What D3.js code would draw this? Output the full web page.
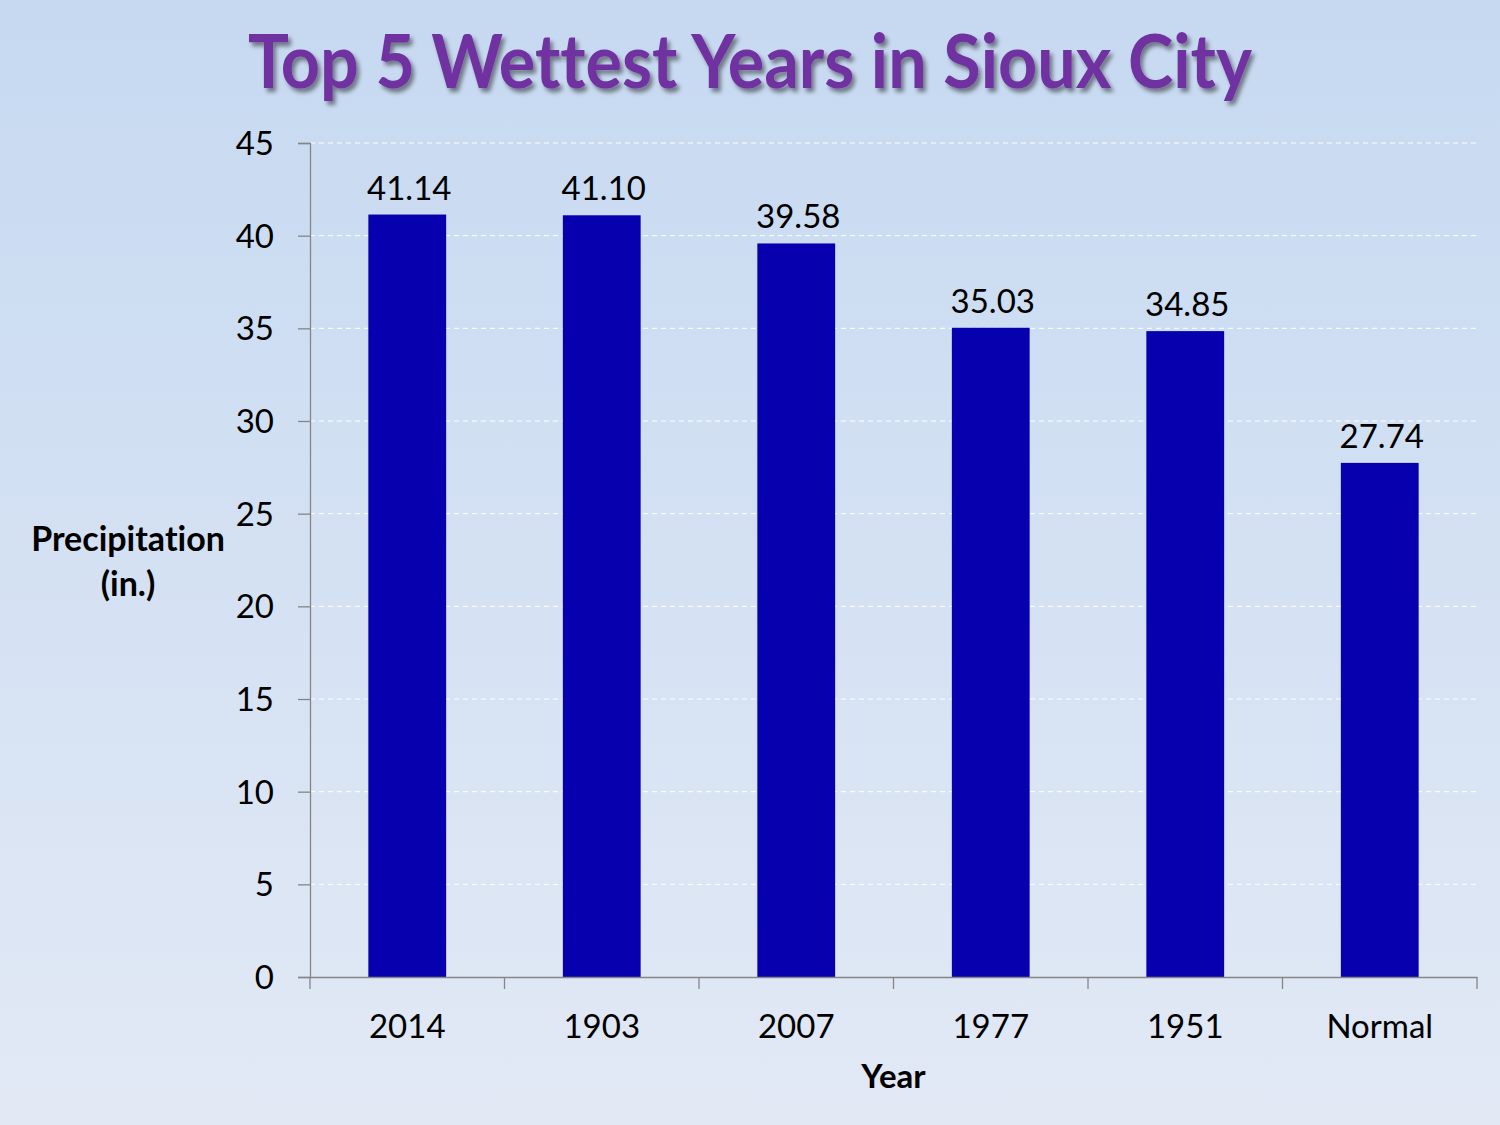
<!DOCTYPE html>
<html>
<head>
<meta charset="utf-8">
<script src="https://cdn.jsdelivr.net/npm/d3@7"></script>
<style>
  html, body { margin: 0; padding: 0; }
  body { width: 1500px; height: 1125px; overflow: hidden; }
  svg { display: block; }
  text { font-variant-ligatures: none; }
</style>
</head>
<body>
<svg id="chart" width="1500" height="1125"></svg>
<script>
const categories = ["2014", "1903", "2007", "1977", "1951", "Normal"];
const values = [41.14, 41.10, 39.58, 35.03, 34.85, 27.74];
const labels = ["41.14", "41.10", "39.58", "35.03", "34.85", "27.74"];
const yTicks = [0, 5, 10, 15, 20, 25, 30, 35, 40, 45];
const titleText = "Top 5 Wettest Years in Sioux City";
const yTitle = ["Precipitation", "(in.)"];
const xTitle = "Year";

(function () {
const svg = d3.select("#chart");
const W = 1500, H = 1125;
const fontFamily = "Lato, 'Open Sans', 'Noto Sans', sans-serif";

const defs = svg.append("defs");
const grad = defs.append("linearGradient").attr("id", "bg").attr("x1", 0).attr("y1", 0).attr("x2", 0).attr("y2", 1);
grad.append("stop").attr("offset", "0%").attr("stop-color", "#c6d9f1");
grad.append("stop").attr("offset", "100%").attr("stop-color", "#e2e9f5");
svg.append("rect").attr("width", W).attr("height", H).attr("fill", "url(#bg)");

const shadow = defs.append("filter").attr("id", "shadow").attr("x", "-5%").attr("y", "-20%").attr("width", "110%").attr("height", "150%");
shadow.append("feDropShadow").attr("dx", 3).attr("dy", 4).attr("stdDeviation", 2).attr("flood-color", "#000").attr("flood-opacity", 0.45);

const pLeft = 310, pRight = 1477, pTop = 143, pBottom = 977;

const x = d3.scaleBand().domain(categories).range([pLeft, pRight]).padding(0);
const y = d3.scaleLinear().domain([0, 45]).range([pBottom, pTop]);

svg.append("g").selectAll("line").data(yTicks.filter(d => d > 0)).join("line")
  .attr("x1", pLeft).attr("x2", pRight)
  .attr("y1", d => y(d)).attr("y2", d => y(d))
  .attr("stroke", "#ffffff").attr("stroke-width", 1)
  .attr("stroke-dasharray", "5,4");

const barW = x.bandwidth() * 0.4;
svg.append("g").selectAll("rect").data(values).join("rect")
  .attr("x", (d, i) => x(categories[i]) + x.bandwidth() / 2 - barW / 2)
  .attr("width", barW)
  .attr("y", d => y(d))
  .attr("height", d => pBottom - y(d))
  .attr("fill", "#0700ae");

svg.append("g").selectAll("text").data(values).join("text")
  .attr("x", (d, i) => x(categories[i]) + x.bandwidth() / 2 + 2)
  .attr("y", d => y(d) - 15)
  .attr("text-anchor", "middle")
  .attr("font-family", fontFamily)
  .attr("font-size", 33)
  .attr("fill", "#000")
  .text((d, i) => labels[i]);

const yAxis = svg.append("g").attr("transform", `translate(${pLeft},0)`)
  .call(d3.axisLeft(y).tickValues(yTicks).tickSize(12).tickPadding(24).tickFormat(d3.format("d")));
yAxis.select(".domain").attr("stroke", "#868686").attr("stroke-width", 1.3);
yAxis.selectAll(".tick line").attr("stroke", "#868686").attr("stroke-width", 1.3);
yAxis.selectAll(".tick text").attr("font-family", fontFamily).attr("font-size", 33).attr("fill", "#000").attr("dy", "0.35em");

const xAxis = svg.append("g").attr("transform", `translate(0,${pBottom})`)
  .call(d3.axisBottom(x).tickSize(0).tickPadding(0));
xAxis.select(".domain").attr("stroke", "#868686").attr("stroke-width", 1.3);
xAxis.selectAll(".tick line").remove();
xAxis.selectAll(".tick text").attr("font-family", fontFamily).attr("font-size", 33).attr("fill", "#000")
  .attr("y", 61).attr("dy", 0);
const bounds = categories.map(c => x(c)).concat([pRight]);
svg.append("g").selectAll("line").data(bounds).join("line")
  .attr("x1", d => d).attr("x2", d => d)
  .attr("y1", pBottom).attr("y2", pBottom + 12)
  .attr("stroke", "#868686").attr("stroke-width", 1.3);

svg.append("text")
  .attr("x", 750).attr("y", 88)
  .attr("text-anchor", "middle")
  .attr("font-family", fontFamily)
  .attr("font-weight", "bold")
  .attr("font-size", 74)
  .attr("fill", "#7030a0")
  .attr("textLength", 1004)
  .attr("lengthAdjust", "spacingAndGlyphs")
  .attr("filter", "url(#shadow)")
  .text(titleText);

svg.append("text").attr("x", 128).attr("y", 551).attr("text-anchor", "middle")
  .attr("font-family", fontFamily).attr("font-weight", "bold").attr("font-size", 34).attr("fill", "#000")
  .text(yTitle[0]);
svg.append("text").attr("x", 128).attr("y", 596).attr("text-anchor", "middle")
  .attr("font-family", fontFamily).attr("font-weight", "bold").attr("font-size", 34).attr("fill", "#000")
  .text(yTitle[1]);
svg.append("text").attr("x", (pLeft + pRight) / 2).attr("y", 1088).attr("text-anchor", "middle")
  .attr("font-family", fontFamily).attr("font-weight", "bold").attr("font-size", 33).attr("fill", "#000")
  .text(xTitle);
})();
</script>
</body>
</html>
